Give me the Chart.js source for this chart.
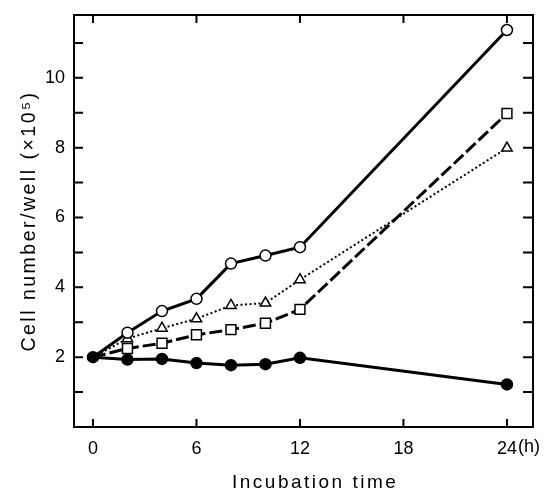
<!DOCTYPE html>
<html><head><meta charset="utf-8">
<script src="https://cdn.jsdelivr.net/npm/chart.js@4.4.1/dist/chart.umd.min.js"></script>
<style>html,body{margin:0;padding:0;background:#fff;overflow:hidden}</style>
</head><body>
<canvas id="c" width="551" height="492"></canvas>
<script>
// ---- data ----
const hours = [0, 2, 4, 6, 8, 10, 12, 24];
const openCircle   = [2.00, 2.70, 3.32, 3.67, 4.68, 4.91, 5.15, 11.37];
const openTriangle = [2.00, 2.53, 2.83, 3.10, 3.48, 3.55, 4.22, 7.99];
const openSquare   = [2.00, 2.25, 2.40, 2.64, 2.79, 2.97, 3.37, 8.98];
const filledCircle = [2.00, 1.93, 1.95, 1.83, 1.77, 1.80, 1.98, 1.22];
const xTickValues = [0, 6, 12, 18, 24];
const yTickValues = [1, 2, 3, 4, 5, 6, 7, 8, 9, 10, 11];
const yLabelValues = [2, 4, 6, 8, 10];
const xTitle = '   Incubation time';
const yTitle = 'Cell number/well (×10⁵)';
const xUnit = '(h)';

const FONT = 'Liberation Sans';
const pts = arr => hours.map((h, i) => ({x: h, y: arr[i]}));
const hideFirst = r => hours.map((h, i) => i === 0 ? 0 : r);
const noPad = s => { s.paddingTop = 0; s.paddingBottom = 0; s.paddingLeft = 0; s.paddingRight = 0; };

const spacingPlugin = {
  id: 'spacing',
  beforeDraw(chart) { chart.ctx.letterSpacing = '2.5px'; },
  beforeDatasetsDraw(chart) { chart.ctx.letterSpacing = '0px'; }
};

const tickPlugin = {
  id: 'inTicks',
  afterDraw(chart) {
    const {ctx, chartArea: a, scales: {x, y}} = chart;
    ctx.save();
    ctx.letterSpacing = '0px';
    ctx.strokeStyle = '#000';
    ctx.lineWidth = 2;
    ctx.beginPath();
    xTickValues.forEach(v => {
      const p = x.getPixelForValue(v);
      ctx.moveTo(p, a.bottom); ctx.lineTo(p, a.bottom - 8);
      ctx.moveTo(p, a.top); ctx.lineTo(p, a.top + 8);
    });
    yTickValues.forEach(v => {
      const p = y.getPixelForValue(v);
      ctx.moveTo(a.left, p); ctx.lineTo(a.left + 9, p);
      ctx.moveTo(a.right, p); ctx.lineTo(a.right - 10, p);
    });
    ctx.stroke();
    // unit suffix after the last x tick label
    ctx.font = '18px "' + FONT + '"';
    ctx.fillStyle = '#000';
    ctx.textAlign = 'left';
    ctx.textBaseline = 'top';
    const last = xTickValues[xTickValues.length - 1];
    const px = x.getPixelForValue(last) + ctx.measureText(String(last)).width / 2 + 1;
    ctx.fillText(xUnit, px, x.top + 11);
    ctx.restore();
  }
};

const common = {borderColor: '#000', pointBorderColor: '#000', pointBorderWidth: 1.5,
  tension: 0, fill: false};

new Chart(document.getElementById('c'), {
  type: 'line',
  data: {
    datasets: [
      Object.assign({}, common, {label: 'filled', data: pts(filledCircle), borderWidth: 3,
        pointStyle: 'circle', pointRadius: 5.5, pointBackgroundColor: '#000', order: 0}),
      Object.assign({}, common, {label: 'open circle', data: pts(openCircle), borderWidth: 3,
        pointStyle: 'circle', pointRadius: hideFirst(5.5), pointBackgroundColor: '#fff', order: 1}),
      Object.assign({}, common, {label: 'square', data: pts(openSquare), borderWidth: 3,
        borderDash: [13, 4], pointStyle: 'rect', pointRadius: hideFirst(7),
        pointBackgroundColor: '#fff', order: 2}),
      Object.assign({}, common, {label: 'triangle', data: pts(openTriangle), borderWidth: 2,
        borderDash: [2, 2.5], pointStyle: 'triangle', pointRadius: hideFirst(6),
        pointBackgroundColor: '#fff', order: 3})
    ]
  },
  options: {
    responsive: false,
    animation: false,
    layout: {padding: 0},
    plugins: {legend: {display: false}, tooltip: {enabled: false}},
    scales: {
      x: {
        type: 'linear', position: 'bottom', min: -1.10, max: 25.51,
        afterBuildTicks: s => { s.ticks = xTickValues.map(v => ({value: v})); },
        afterFit: s => { s.height = 65; noPad(s); },
        grid: {display: false, drawTicks: false},
        border: {display: true, color: '#000', width: 2},
        ticks: {z: 1, color: '#000', padding: 11, maxRotation: 0, autoSkip: false,
          font: {family: FONT, size: 18}, callback: v => String(v)},
        title: {display: true, text: xTitle, color: '#000',
          font: {family: FONT, size: 19, lineHeight: 1}, padding: {top: 0, bottom: 0}}
      },
      x2: {
        type: 'linear', position: 'top', min: -1.10, max: 25.51,
        afterFit: s => { s.height = 15; noPad(s); },
        grid: {display: false, drawTicks: false},
        border: {display: true, color: '#000', width: 2},
        ticks: {display: false}
      },
      y: {
        type: 'linear', position: 'left', min: 0, max: 11.8,
        afterBuildTicks: s => { s.ticks = yTickValues.map(v => ({value: v})); },
        afterFit: s => { s.width = 74; noPad(s); },
        grid: {display: false, drawTicks: false},
        border: {display: true, color: '#000', width: 2},
        ticks: {z: 1, color: '#000', padding: 9, autoSkip: false,
          font: {family: FONT, size: 18},
          callback: v => yLabelValues.includes(v) ? String(v) : ''},
        title: {display: true, text: yTitle, color: '#000',
          font: {family: FONT, size: 19.5, lineHeight: 1}, padding: {top: 20, bottom: 0}}
      },
      y2: {
        type: 'linear', position: 'right', min: 0, max: 11.8,
        afterFit: s => { s.width = 18; noPad(s); },
        grid: {display: false, drawTicks: false},
        border: {display: true, color: '#000', width: 2},
        ticks: {display: false}
      }
    }
  },
  plugins: [spacingPlugin, tickPlugin]
});
</script>
</body></html>
